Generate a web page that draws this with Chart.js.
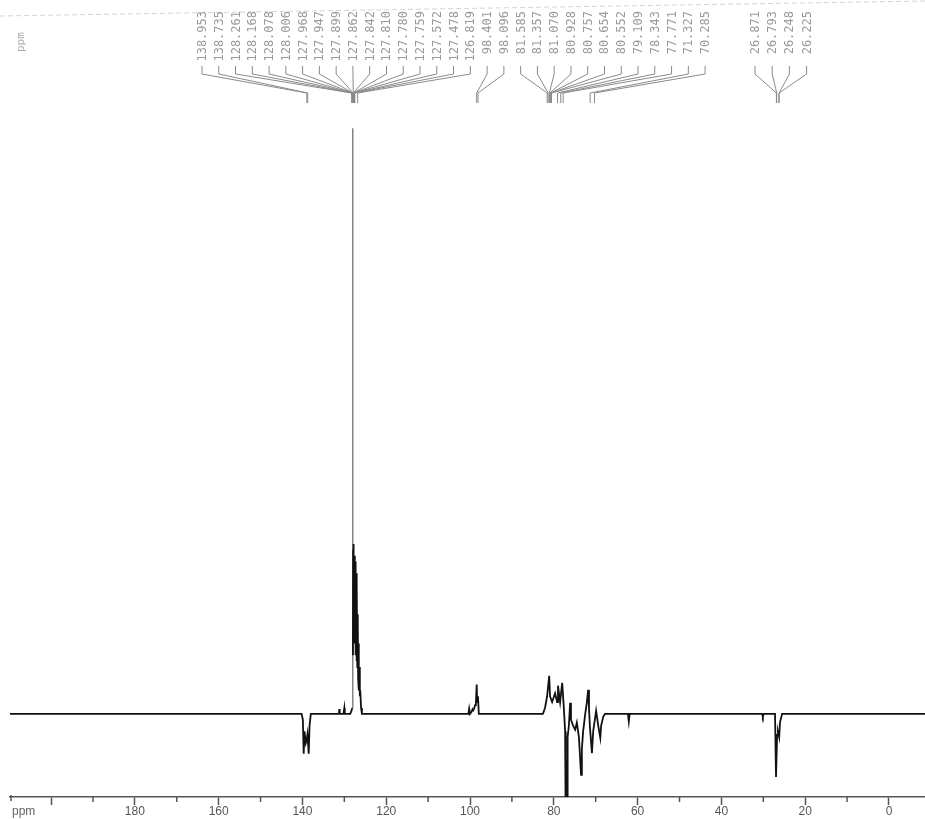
<!DOCTYPE html>
<html>
<head>
<meta charset="utf-8">
<script src="https://cdn.jsdelivr.net/npm/chart.js@4/dist/chart.umd.min.js"></script>
<style>
  body { margin: 0; background: #fff; }
  #spec { display: block; }
</style>
</head>
<body>
<canvas id="spec" width="925" height="819"></canvas>
<script>
/* global Chart */
// chemical shift (ppm) and intensity (tallest peak = 100)
const shiftPpm = [
  209.8, 140.2, 139.9, 139.7, 139.5, 139.2, 139.0, 138.8, 138.5, 138.3, 138.0,
  131.3, 131.2, 131.1, 130.2, 130.0, 129.9, 128.6, 128.3, 128.1, 128.0,
  127.95, 127.9, 127.85, 127.8, 127.7, 127.6, 127.5, 127.4, 127.3, 127.2, 127.1,
  127.0, 126.9, 126.8, 126.7, 126.6, 126.5, 126.4, 126.3, 126.2, 126.0, 125.8,
  100.4, 100.2, 100.0, 99.6, 99.4, 99.2, 99.0, 98.8, 98.6, 98.4, 98.3, 98.1, 97.9,
  82.6, 82.1, 81.6, 81.1, 80.9, 80.4, 79.7, 79.2, 79.0, 78.5, 78.0, 77.6, 77.3,
  77.2, 77.1, 77.0, 76.9, 76.8, 76.7, 76.4, 76.1, 75.9, 75.4, 74.9, 74.5, 74.0,
  73.5, 73.3, 73.0, 72.5, 72.1, 71.8, 71.6, 71.4, 70.9, 70.6, 70.2, 69.9, 69.4,
  68.9, 68.7, 68.2, 67.8,
  62.3, 62.1, 61.9, 30.3, 30.1, 29.9,
  27.2, 26.96, 26.7, 26.5, 26.2, 26.0, 25.5, -8.6
]
const intensity = [
  0, 0, -1, -6.8, -3, -5, -4.5, -3.5, -6.8, -2, 0,
  0, 0.8, 0, 0, 1.0, 0, 0, 0.5, 1, 100,
  10, 28, 12, 29, 14, 27, 12, 26, 10, 24, 9,
  22, 8, 17, 6, 12, 4, 8, 3, 4, 1, 0,
  0, 0.9, 0, 0.4, 0.8, 0.6, 0.9, 1.5, 1.8, 5.0, 2, 3, 0,
  0, 1, 3, 6.5, 3, 2, 3.5, 2, 4.8, 2, 5.3, 1, -3,
  -20, -8, -20, -8, -20, -4, -2, 1.9, -1, -2, -2.7, -1.5, -4,
  -10.4, -6, -3, 0, 2, 4.1, 1, -2, -6.7, -3, -1, 0.5, -2,
  -4.1, -2, -0.5, 0,
  0, -1.3, 0, 0, -0.5, 0,
  0, -10.8, -3.6, -3, -4, -1.4, 0, 0
]
// picked peaks printed along the top
const peakLabelsA = [
  138.953, 138.735, 128.261, 128.168, 128.078, 128.006, 127.968, 127.947,
  127.899, 127.862, 127.842, 127.810, 127.780, 127.759, 127.572, 127.478,
  126.819, 98.401, 98.096, 81.585, 81.357, 81.070, 80.928, 80.757, 80.654,
  80.552, 79.109, 78.343, 77.771, 71.327, 70.285
]
const peakLabelsB = [26.871, 26.793, 26.248, 26.225]
const axisTicks = [200, 190, 180, 170, 160, 150, 140, 130, 120, 110, 100, 90, 80, 70, 60, 50, 40, 30, 20, 10, 0]

const points = shiftPpm.map((x, i) => ({ x: x, y: intensity[i] }))

// leader lines from the printed shifts down to the peak positions
const peakLabelPlugin = {
  id: 'peakLabels',
  beforeDraw (chart) {
    const c = chart.ctx
    // faint dashed page edge from the scan
    c.save()
    c.strokeStyle = '#d4d4d4'
    c.lineWidth = 1
    c.setLineDash([5, 3])
    c.beginPath()
    c.moveTo(0, 16)
    c.lineTo(925, 1)
    c.stroke()
    c.restore()
  },
  afterDraw (chart) {
    const c = chart.ctx
    const xs = chart.scales.x
    c.save()
    c.font = '12px "DejaVu Sans Mono", monospace'
    c.fillStyle = '#9a9a9a'
    c.strokeStyle = '#8a8a8a'
    c.lineWidth = 1
    const groups = [
      { vals: peakLabelsA, start: 202, step: 16.77 },
      { vals: peakLabelsB, start: 755, step: 17.2 }
    ]
    groups.forEach(g => {
      g.vals.forEach((v, i) => {
        const lx = g.start + i * g.step
        const px = xs.getPixelForValue(v)
        c.save()
        c.translate(lx + 4, 11)
        c.rotate(-Math.PI / 2)
        c.textAlign = 'right'
        c.textBaseline = 'alphabetic'
        c.fillText(v.toFixed(3), 0, 0)
        c.restore()
        c.beginPath()
        c.moveTo(lx, 66)
        c.lineTo(lx, 74)
        c.lineTo(px, 93)
        c.lineTo(px, 103)
        c.stroke()
      })
    })
    // ppm tag top left
    c.save()
    c.font = '11px "DejaVu Sans Mono", monospace'
    c.fillStyle = '#aaa'
    c.translate(24, 52)
    c.rotate(-Math.PI / 2)
    c.fillText('ppm', 0, 0)
    c.restore()
    // short ticks at odd tens
    const bottom = chart.chartArea.bottom
    c.strokeStyle = '#555'
    c.lineWidth = 1.5
    axisTicks.forEach(t => {
      if (t % 20 !== 0) {
        const px = xs.getPixelForValue(t)
        c.beginPath()
        c.moveTo(px, bottom)
        c.lineTo(px, bottom + 5)
        c.stroke()
      }
    })
    c.beginPath()
    c.moveTo(chart.chartArea.left + 1, bottom - 2)
    c.lineTo(chart.chartArea.left + 1, bottom + 4)
    c.stroke()
    c.font = '12px "Liberation Sans", sans-serif'
    c.fillStyle = '#666'
    c.textBaseline = 'middle'
    c.fillText('ppm', 12, 812)
    c.restore()
  }
}

const ctx = document.getElementById('spec').getContext('2d')
new Chart(ctx, {
  type: 'line',
  data: {
    datasets: [{
      data: points,
      borderColor: '#111',
      borderWidth: 1.8,
      pointRadius: 0,
      tension: 0,
      fill: false,
      segment: {
        borderColor: s => (s.p1.parsed.y > 50 || s.p0.parsed.y > 50) ? '#666' : undefined,
        borderWidth: s => (s.p1.parsed.y > 50 || s.p0.parsed.y > 50) ? 1.2 : undefined
      }
    }]
  },
  options: {
    responsive: false,
    animation: false,
    layout: { padding: { left: 10, right: 0, top: 110, bottom: 0 } },
    plugins: { legend: { display: false }, tooltip: { enabled: false } },
    scales: {
      x: {
        type: 'linear',
        reverse: true,
        min: -8.6,
        max: 209.8,
        border: { display: true, color: '#555', width: 1.5 },
        grid: {
          drawOnChartArea: false,
          tickLength: 8,
          tickWidth: 1.5,
          tickColor: c => (c.tick && c.tick.value % 20 === 0) ? '#555' : 'rgba(0,0,0,0)'
        },
        afterBuildTicks: scale => {
          scale.ticks = axisTicks.map(v => ({ value: v }))
        },
        ticks: {
          autoSkip: false,
          maxRotation: 0,
          padding: 1,
          color: '#555',
          font: { family: 'Liberation Sans', size: 12, lineHeight: 1 },
          callback: v => (v % 20 === 0 && v !== 200) ? String(v) : ''
        }
      },
      y: {
        display: false,
        min: -14.2,
        max: 103.1
      }
    }
  },
  plugins: [peakLabelPlugin]
})
</script>
</body>
</html>
